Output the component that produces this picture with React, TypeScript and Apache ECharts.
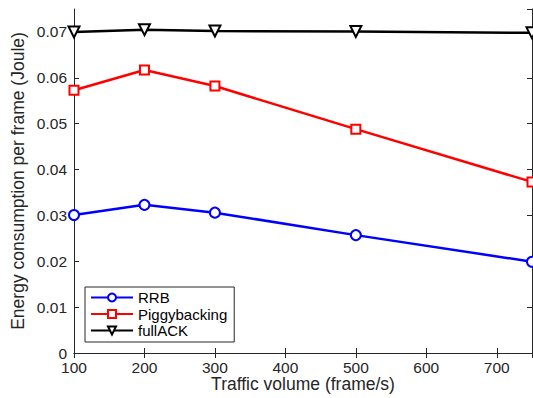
import React, { useEffect, useRef } from "react";
import * as echarts from "echarts";

const xValues = [100, 200, 300, 500, 750];
const rrb = [0.0301, 0.0323, 0.0306, 0.0257, 0.0199];
const piggy = [0.0573, 0.0617, 0.0582, 0.0488, 0.0373];
const fullAck = [0.0700, 0.0705, 0.0702, 0.0701, 0.0698];

const seriesNames = ["RRB", "Piggybacking", "fullACK"];

const FONT = "Liberation Sans, Arial, Helvetica, sans-serif";
const AX = "#262626";

export default function App() {
  const ref = useRef<HTMLDivElement>(null);
  useEffect(() => {
    if (!ref.current) return;
    const chart = echarts.init(ref.current, null, { renderer: "svg" });
    const pair = (ys: number[]) => xValues.map((x, i) => [x, ys[i]]);
    const axisCommon = {
      axisLine: { show: true, lineStyle: { color: AX, width: 1 } },
      axisTick: { show: true, inside: true, length: 5, lineStyle: { color: AX } },
      splitLine: { show: false },
    };
    chart.setOption({
      animation: false,
      backgroundColor: "#fff",
      textStyle: { fontFamily: FONT },
      grid: {
        left: 74,
        top: 9,
        right: 1,
        bottom: 45,
        containLabel: false,
        outerBoundsMode: "none",
      },
      legend: {
        orient: "vertical",
        left: 85,
        top: 287,
        data: seriesNames,
        itemWidth: 42,
        itemHeight: 10,
        itemGap: 1.5,
        padding: [3, 7, 4, 5],
        borderColor: AX,
        borderWidth: 1,
        backgroundColor: "#fff",
        textStyle: { fontFamily: FONT, fontSize: 15, lineHeight: 15, color: "#000" },
      },
      xAxis: [
        {
          type: "value",
          min: 100,
          max: 750,
          interval: 100,
          name: "Traffic volume (frame/s)",
          nameLocation: "middle",
          nameGap: 22,
          nameMoveOverlap: false,
          nameTextStyle: { fontSize: 17.5, lineHeight: 18, color: AX, fontFamily: FONT },
          axisLabel: {
            fontSize: 15.5,
            lineHeight: 14,
            color: AX,
            margin: 7,
            showMaxLabel: false,
            fontFamily: FONT,
          },
          ...axisCommon,
        },
        {
          type: "value",
          position: "top",
          min: 100,
          max: 750,
          interval: 100,
          axisLabel: { show: false },
          ...axisCommon,
        },
      ],
      yAxis: [
        {
          type: "value",
          min: 0,
          max: 0.075,
          interval: 0.01,
          name: "Energy consumption per frame (Joule)",
          nameLocation: "middle",
          nameGap: 47,
          nameMoveOverlap: false,
          nameTextStyle: { fontSize: 17.5, color: AX, fontFamily: FONT },
          axisLabel: {
            fontSize: 15.5,
            lineHeight: 12,
            color: AX,
            margin: 7,
            showMaxLabel: false,
            fontFamily: FONT,
          },
          ...axisCommon,
        },
        {
          type: "value",
          position: "right",
          min: 0,
          max: 0.075,
          interval: 0.01,
          axisLabel: { show: false },
          ...axisCommon,
        },
      ],
      series: [
        {
          name: "RRB",
          type: "line",
          data: pair(rrb),
          clip: false,
          symbol: "emptyCircle",
          symbolSize: 10,
          lineStyle: { color: "#0000ff", width: 2.5 },
          itemStyle: { color: "#0000ff", borderWidth: 2 },
          z: 3,
        },
        {
          name: "Piggybacking",
          type: "line",
          data: pair(piggy),
          clip: false,
          symbol: "emptyRect",
          symbolSize: 9,
          lineStyle: { color: "#ff0000", width: 2.5 },
          itemStyle: { color: "#ff0000", borderWidth: 2 },
          z: 3,
        },
        {
          name: "fullACK",
          type: "line",
          data: pair(fullAck),
          clip: false,
          symbol: "emptyTriangle",
          symbolRotate: 180,
          symbolSize: 11,
          lineStyle: { color: "#000", width: 2.5 },
          itemStyle: { color: "#000", borderWidth: 2.5 },
          z: 3,
        },
      ],
    });
    return () => chart.dispose();
  }, []);
  return (
    <div
      ref={ref}
      style={{ position: "absolute", left: 0, top: 0, width: 533, height: 398 }}
    />
  );
}
